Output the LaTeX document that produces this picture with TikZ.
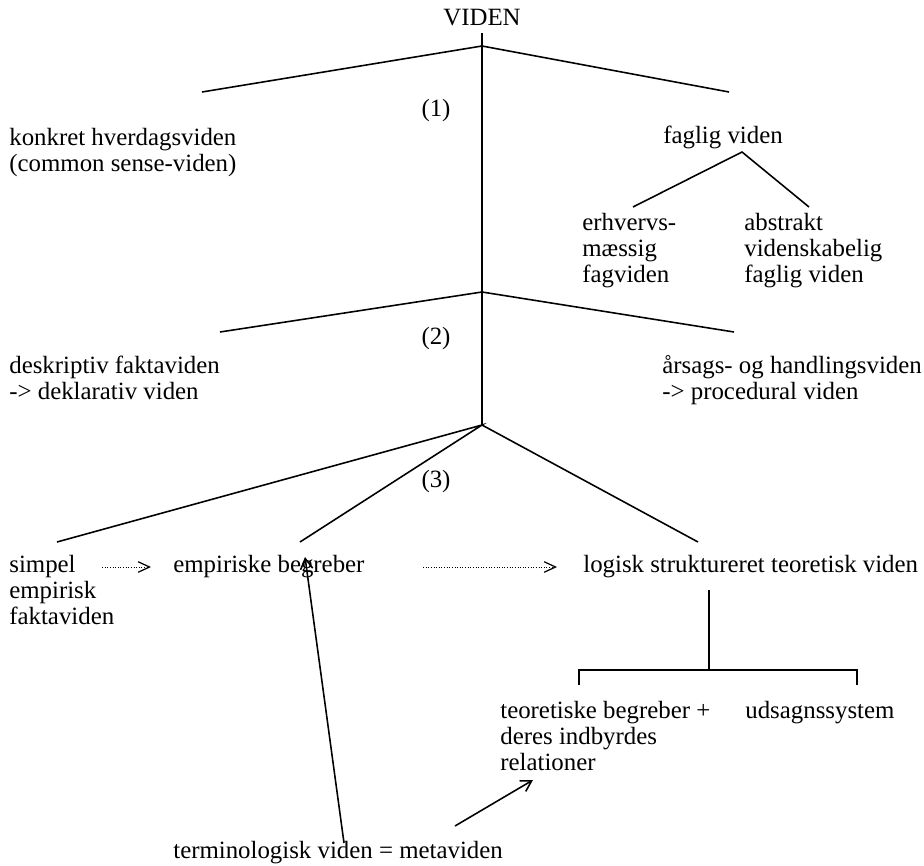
\documentclass[tikz,border=0pt]{standalone}
\usepackage{fontspec}
\setmainfont{Liberation Serif}
\usetikzlibrary{arrows.meta,calc,positioning}

\tikzset{
  txt/.style={inner sep=0pt, anchor=base west, align=left, font=\fontsize{14.2}{14.8}\selectfont},
  num/.style={inner sep=0pt, anchor=base, font=\fontsize{14.2}{14.8}\selectfont},
  branch/.style={line width=0.9pt},
  dotarrow/.style={densely dotted, line width=0.5pt, -{Straight Barb[length=6.5pt,width=6pt,line width=0.7pt]}},
  refarrow/.style={line width=0.9pt, -{Straight Barb[length=6pt,width=7pt]}}
}

\begin{document}
\begin{tikzpicture}[x=0.5714pt, y=-0.5714pt]
\useasboundingbox (0,0) rectangle (924,866);

% level 0
\node[num] (viden) at (482,25) {VIDEN};
\coordinate (top) at (482,33);
\coordinate (A1) at (482,46);
\coordinate (A2) at (482,292);
\coordinate (A3) at (482,425);
\draw[branch] (top) -- (A3);

% (1) -- multi-line nodes sit on their last baseline
\node[num] (n1) at (436,116) {(1)};
\node[txt] (konkret) at (9,171) {konkret hverdagsviden\\(common sense-viden)};
\node[txt] (faglig) at (663,143) {faglig viden};
\coordinate (k1) at (202,92);
\coordinate (f1) at (729,92);
\draw[branch] (k1) -- (A1) -- (f1);

\node[txt] (erhverv) at (582,282) {erhvervs-\\mæssig\\fagviden};
\node[txt] (abstrakt) at (744,282) {abstrakt\\videnskabelig\\faglig viden};
\coordinate (F) at (742,152);
\coordinate (e1) at (633,207);
\coordinate (a1) at (809,207);
\draw[branch] (e1) -- (F) -- (a1);

% (2)
\node[num] (n2) at (436,344) {(2)};
\node[txt] (deskriptiv) at (9,399) {deskriptiv faktaviden\\-> deklarativ viden};
\node[txt] (aarsag) at (662,399) {årsags- og handlingsviden\\-> procedural viden};
\coordinate (d1) at (220,332);
\coordinate (h1) at (734,332);
\draw[branch] (d1) -- (A2) -- (h1);

% (3)
\node[num] (n3) at (436,487) {(3)};
\node[txt] (simpel) at (9,624) {simpel\\empirisk\\faktaviden};
\node[txt] (empiriske) at (173,572) {empiriske begreber};
\node[txt] (logisk) at (583,572) {logisk struktureret teoretisk viden};
\coordinate (s1) at (57,542);
\coordinate (m1) at (300,542);
\coordinate (l1) at (698,542);
\draw[branch] (s1) -- (A3) -- (m1);
\draw[branch] (A3) -- (l1);

\coordinate (s2) at (102,567);
\coordinate (s3) at (151,567);
\coordinate (m2) at (423,567);
\coordinate (m3) at (557,567);
\draw[dotarrow] (s2) -- (s3);
\draw[dotarrow] (m2) -- (m3);

% teori
\coordinate (L1) at (709,590);
\coordinate (L2) at (709,670);
\coordinate (T1) at (579,670);
\coordinate (U1) at (857,670);
\draw[branch] (L1) -- (L2);
\draw[branch] ($(T1)+(0,15)$) -- (T1) -- (U1) -- ($(U1)+(0,15)$);
\node[txt] (teoretiske) at (500,770) {teoretiske begreber +\\deres indbyrdes\\relationer};
\node[txt] (udsagn) at (745,718) {udsagnssystem};

% metaviden
\node[txt] (termino) at (173,858) {terminologisk viden = metaviden};
\coordinate (t1) at (344,843);
\coordinate (t2) at (305,557);
\coordinate (t3) at (455,826);
\coordinate (t4) at (533,780);
\draw[refarrow] (t1) -- (t2);
\draw[refarrow] (t3) -- (t4);
\end{tikzpicture}
\end{document}
